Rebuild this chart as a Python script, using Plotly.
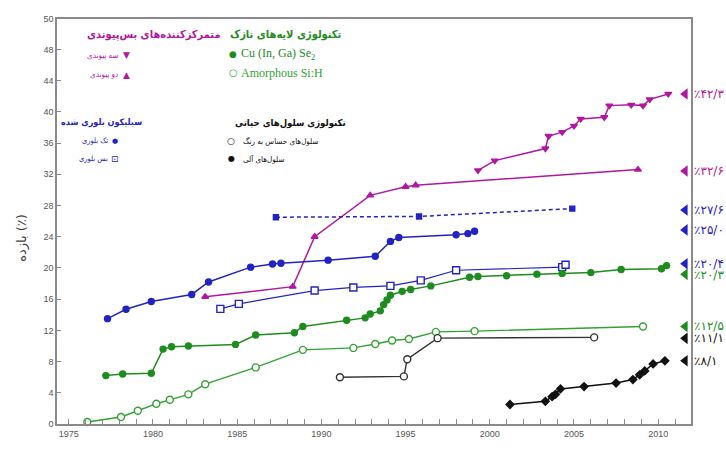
import plotly.graph_objects as go

# ---- data: best research-cell efficiencies (%) by year ----
three_j_years = [1999.3, 2000.3, 2003.3, 2003.5, 2004.3, 2005.0, 2005.4, 2006.8, 2007.1, 2008.4, 2009.1, 2009.5, 2010.6]
three_j_eff = [32.5, 33.75, 35.3, 36.9, 37.4, 38.2, 39.1, 39.3, 40.8, 40.9, 40.8, 41.6, 42.3]

two_j_years = [1983.1, 1988.3, 1989.6, 1992.9, 1995.0, 1995.6, 2008.8]
two_j_eff = [16.3, 17.6, 24.0, 29.3, 30.4, 30.6, 32.6]

conc_si_years = [1987.3, 1995.8, 2004.9]
conc_si_eff = [26.5, 26.6, 27.6]

mono_si_years = [1977.3, 1978.4, 1979.9, 1982.3, 1983.3, 1985.8, 1987.1, 1987.6, 1990.4, 1993.2, 1994.1, 1994.6, 1998.0, 1998.7, 1999.1]
mono_si_eff = [13.5, 14.7, 15.7, 16.6, 18.2, 20.1, 20.5, 20.6, 21.0, 21.5, 23.4, 23.9, 24.25, 24.4, 24.7]

multi_si_years = [1984.0, 1985.1, 1989.6, 1991.9, 1994.1, 1995.9, 1998.0, 2004.3, 2004.5]
multi_si_eff = [14.75, 15.4, 17.1, 17.5, 17.7, 18.4, 19.7, 20.1, 20.4]

cigs_years = [1977.2, 1978.2, 1979.9, 1980.6, 1981.1, 1982.1, 1984.9, 1986.1, 1988.4, 1988.9, 1991.5,
              1992.6, 1992.9, 1993.5, 1993.7, 1993.9, 1994.1, 1994.8, 1995.3, 1996.5, 1998.8, 1999.3,
              2001.0, 2002.8, 2004.3, 2006.0, 2007.8, 2010.2, 2010.5]
cigs_eff = [6.2, 6.4, 6.5, 9.6, 9.9, 10.0, 10.2, 11.4, 11.7, 12.5, 13.3,
            13.6, 14.1, 14.5, 15.3, 15.9, 16.5, 17.0, 17.25, 17.7, 18.8, 18.9,
            19.0, 19.2, 19.3, 19.4, 19.8, 19.9, 20.3]

asi_years = [1976.1, 1978.1, 1979.1, 1980.2, 1981.0, 1982.1, 1983.1, 1986.1, 1988.9, 1991.9, 1993.2, 1994.2, 1995.2, 1996.8, 1999.1, 2009.1]
asi_eff = [0.25, 0.9, 1.7, 2.6, 3.1, 3.8, 5.1, 7.25, 9.5, 9.75, 10.25, 10.7, 10.9, 11.8, 11.9, 12.5]

dye_years = [1991.1, 1994.9, 1995.1, 1996.9, 2006.2]
dye_eff = [6.0, 6.1, 8.3, 11.0, 11.1]

organic_years = [2001.2, 2003.3, 2003.7, 2003.9, 2004.2, 2005.6, 2007.5, 2008.5, 2008.9, 2009.2, 2009.7, 2010.4]
organic_eff = [2.5, 2.9, 3.5, 3.8, 4.5, 4.8, 5.25, 5.7, 6.3, 6.8, 7.7, 8.1]

# record values marked on the right-hand edge
record_values = [42.3, 32.6, 27.6, 25.0, 20.4, 20.3, 12.5, 11.1, 8.1]
record_shift_px = [0, -1.5, -1.5, -1, 1, -9, 0, -1, 0]

x_ticks = list(range(1975, 2013))
y_ticks = [0, 4, 8, 12, 16, 20, 24, 28, 32, 36, 40, 44, 48]

MAGENTA = "#b0189f"
BLUE = "#2323c4"
GREEN = "#1e8c1e"
GREEN_LT = "#35a035"
BLACK = "#111111"
AXIS_GREY = "#8a8a8a"

record_colors = [MAGENTA, MAGENTA, BLUE, BLUE, BLUE, GREEN, GREEN, BLACK, BLACK]

FA = "DejaVu Sans Condensed, DejaVu Sans"

W, H = 726, 451
L, R, T, B = 57, 691, 19, 434
X_MIN, X_MAX = 1974.3, 2011.95
Y_TOP = 51.9

fig = go.Figure()


def line(xs, ys, color, symbol, size=6, dash="solid", hollow=False, width=1.5):
    fig.add_trace(go.Scatter(
        x=xs, y=ys, mode="lines+markers",
        line=dict(color=color, width=width, dash=dash),
        marker=dict(symbol=symbol, size=size,
                    color="white" if hollow else color,
                    line=dict(color=color, width=1.4)),
        showlegend=False, hoverinfo="x+y", cliponaxis=False,
    ))


line(three_j_years, three_j_eff, MAGENTA, "triangle-down", 6)
line(two_j_years, two_j_eff, MAGENTA, "triangle-up", 6)
line(conc_si_years, conc_si_eff, BLUE, "square", 5, dash="4px,3px")
line(mono_si_years, mono_si_eff, BLUE, "circle", 6)
line(multi_si_years, multi_si_eff, BLUE, "square", 7, hollow=True, width=1.2)
line(cigs_years, cigs_eff, GREEN, "circle", 6)
line(asi_years, asi_eff, GREEN_LT, "circle", 7, hollow=True, width=1.4)
line(dye_years, dye_eff, "#333333", "circle", 7, hollow=True, width=1.4)
line(organic_years, organic_eff, BLACK, "diamond", 6)

# record arrows at the right edge
arrow_x = [X_MAX - 0.35] * len(record_values)
arrow_y = [v + s / 8.0 for v, s in zip(record_values, record_shift_px)]
fig.add_trace(go.Scatter(
    x=arrow_x, y=arrow_y, mode="markers",
    marker=dict(symbol="triangle-left", size=10, color=record_colors),
    showlegend=False, hoverinfo="y", cliponaxis=False,
))

PERSIAN_DIGITS = str.maketrans("0123456789.", "۰۱۲۳۴۵۶۷۸۹/")


def fa_percent(v):
    return "٪" + f"{v:.1f}".translate(PERSIAN_DIGITS)


annotations = []
for v, s, c in zip(record_values, record_shift_px, record_colors):
    annotations.append(dict(
        x=1.0, xref="paper", y=v, yref="y", yshift=s, xshift=1,
        text=fa_percent(v), showarrow=False, xanchor="left", yanchor="middle",
        font=dict(family="DejaVu Sans", size=12, color=c),
    ))


def px(xp):
    return (xp - L) / (R - L)


def py(yp):
    return (B - yp) / (B - T)


def note(x, y, text, color, size=9, anchor="right", bold=False, family=FA):
    annotations.append(dict(
        x=px(x), y=py(y), xref="paper", yref="paper", showarrow=False,
        text=f"<b>{text}</b>" if bold else text, xanchor=anchor, yanchor="middle",
        font=dict(family=family, size=size, color=color),
    ))


# multijunction concentrators
note(223, 35, "متمرکزکننده‌های بس‌پیوندی", MAGENTA, 11, bold=True)
note(120, 56, "سه پیوندی", MAGENTA, 8)
note(126, 56, "▼", MAGENTA, 9, anchor="center", family="DejaVu Sans")
note(120, 76, "دو پیوندی", MAGENTA, 8)
note(126, 76, "▲", MAGENTA, 9, anchor="center", family="DejaVu Sans")

# thin-film technologies
note(343, 35, "تکنولوژی لایه‌های نازک", GREEN, 11, bold=True)
note(233, 55, "●", GREEN, 9, anchor="center", family="DejaVu Sans")
note(239, 55, "Cu (In, Ga) Se<sub>2</sub>", GREEN, 12, anchor="left", family="Liberation Serif")
note(233, 74, "○", GREEN_LT, 10, anchor="center", family="DejaVu Sans")
note(239, 74, "Amorphous Si:H", GREEN_LT, 12, anchor="left", family="Liberation Serif")

# crystalline silicon
note(144, 125, "سیلیکون بلوری شده", BLUE, 9, bold=True)
note(110, 144, "تک بلوری", BLUE, 7.5)
note(115, 144, "●", BLUE, 7, anchor="center", family="DejaVu Sans")
note(110, 162, "بس بلوری", BLUE, 7.5)
note(115, 162, "⊡", BLUE, 9, anchor="center", family="DejaVu Sans")

# emerging technologies
note(348, 126, "تکنولوژی سلول‌های حیاتی", BLACK, 9.5, bold=True)
note(231, 144, "○", BLACK, 9, anchor="center", family="DejaVu Sans")
note(241, 144, "سلول‌های حساس به رنگ", BLACK, 8, anchor="left")
note(231, 162, "●", BLACK, 8, anchor="center", family="DejaVu Sans")
note(241, 162, "سلول‌های آلی", BLACK, 8, anchor="left")

# y-axis title
annotations.append(dict(
    x=-0.055, y=0.46, xref="paper", yref="paper", showarrow=False,
    text="بازده (٪)", textangle=-90, xanchor="center", yanchor="middle",
    font=dict(family="DejaVu Sans", size=13, color="#444444"),
))

fig.update_layout(
    width=W, height=H,
    margin=dict(l=L, r=W - R, t=T, b=H - B, pad=0),
    paper_bgcolor="white", plot_bgcolor="white",
    annotations=annotations,
    xaxis=dict(
        range=[X_MIN, X_MAX], tickmode="array", tickvals=x_ticks,
        ticktext=[str(y) if y % 5 == 0 else "" for y in x_ticks],
        ticks="inside", ticklen=5, tickcolor=AXIS_GREY, tickwidth=1,
        showline=True, linecolor=AXIS_GREY, linewidth=1.5, mirror=True,
        showgrid=False, zeroline=False,
        tickfont=dict(family="Liberation Sans", size=9, color="#555555"),
    ),
    yaxis=dict(
        range=[0, Y_TOP], tickmode="array", tickvals=y_ticks + [Y_TOP],
        ticktext=[str(v) for v in y_ticks] + ["50"],
        ticks="inside", ticklen=4, tickcolor=AXIS_GREY, tickwidth=1,
        showline=True, linecolor=AXIS_GREY, linewidth=1.5, mirror=True,
        showgrid=False, zeroline=False,
        tickfont=dict(family="Liberation Sans", size=9, color="#555555"),
    ),
)

fig.write_html("out.html")
